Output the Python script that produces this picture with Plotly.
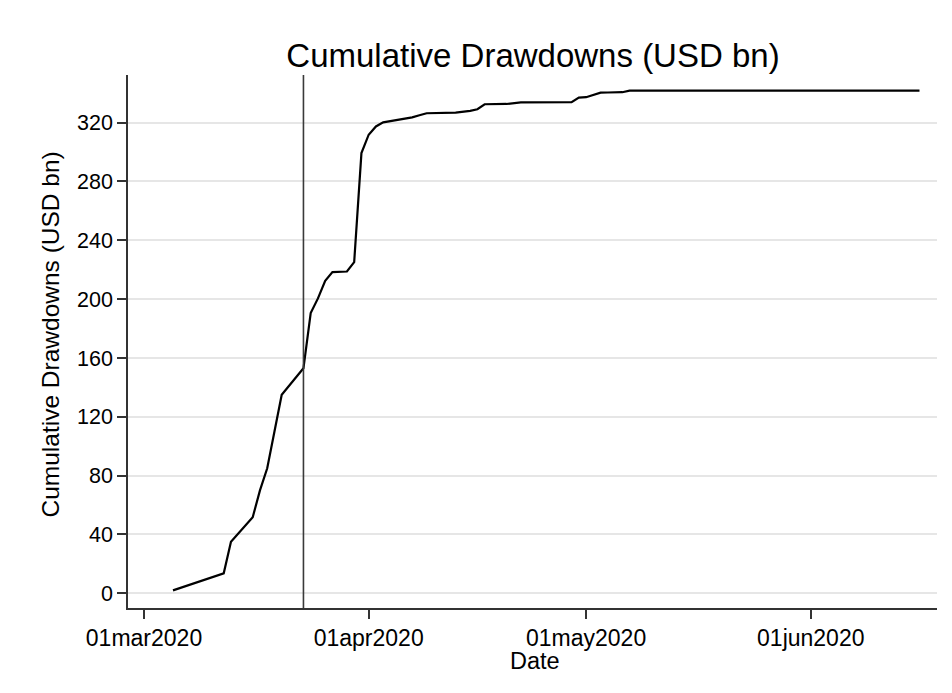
import plotly.graph_objects as go

# ---- data ----
dates = [
    "2020-03-05", "2020-03-06", "2020-03-09", "2020-03-10", "2020-03-11", "2020-03-12",
    "2020-03-13", "2020-03-16", "2020-03-17", "2020-03-18", "2020-03-19", "2020-03-20",
    "2020-03-23", "2020-03-24", "2020-03-25", "2020-03-26", "2020-03-27", "2020-03-29",
    "2020-03-30", "2020-03-31", "2020-04-01", "2020-04-02", "2020-04-03", "2020-04-06",
    "2020-04-07", "2020-04-08", "2020-04-09", "2020-04-13", "2020-04-14", "2020-04-15",
    "2020-04-16", "2020-04-17", "2020-04-20", "2020-04-22", "2020-04-29", "2020-04-30",
    "2020-05-01", "2020-05-03", "2020-05-04", "2020-05-06", "2020-05-07", "2020-06-16",
]
drawdowns = [
    2.0, 3.7, 8.6, 10.3, 11.9, 13.6,
    35.0, 51.7, 70.0, 85.0, 110.0, 135.0,
    153.0, 190.5, 200.5, 212.5, 218.4, 218.8,
    225.2, 299.3, 311.8, 317.4, 320.2, 322.8,
    323.6, 325.0, 326.4, 326.8, 327.2, 328.0,
    329.1, 332.5, 332.7, 333.8, 333.9, 337.0,
    337.3, 340.4, 340.5, 340.7, 341.8, 341.8,
]
event_date = "2020-03-23"

x_tick_vals = ["2020-03-01", "2020-04-01", "2020-05-01", "2020-06-01"]
x_tick_text = ["01mar2020", "01apr2020", "01may2020", "01jun2020"]
y_tick_vals = [0, 40, 80, 120, 160, 200, 240, 280, 320]

title_text = "Cumulative Drawdowns (USD bn)"
y_title = "Cumulative Drawdowns (USD bn)"
x_title = "Date"

FONT = "Liberation Sans, Arial, sans-serif"

# page body has an 8px margin, so the figure is sized to fit the window
W, H = 936, 677

fig = go.Figure()
fig.add_trace(go.Scatter(
    x=dates, y=drawdowns, mode="lines",
    line=dict(color="#000000", width=2.2),
    hoverinfo="x+y", showlegend=False,
))

fig.add_shape(
    type="line", xref="x", yref="paper",
    x0=event_date, x1=event_date, y0=0, y1=1,
    line=dict(color="#3a3a3a", width=1.6),
)

fig.update_layout(
    width=W, height=H,
    paper_bgcolor="white", plot_bgcolor="white",
    margin=dict(l=120, r=7, t=67, b=77),
    font=dict(family=FONT, color="#000000"),
    title=dict(text=title_text, x=525 / W, xanchor="center",
               y=1 - 47 / H, yanchor="middle", yref="container",
               font=dict(size=33, family=FONT, color="#000000")),
    showlegend=False,
)

fig.update_xaxes(
    type="date",
    range=["2020-02-27 19:00", "2020-06-18 10:00"],
    tickmode="array", tickvals=x_tick_vals, ticktext=x_tick_text,
    ticks="outside", ticklen=9, tickwidth=1.5, tickcolor="#333333",
    tickfont=dict(size=23, family=FONT, color="#000000"),
    showgrid=False, zeroline=False, automargin=False,
    showline=True, linecolor="#333333", linewidth=1.5,
)
fig.update_yaxes(
    range=[-10, 352.4],
    tickmode="array", tickvals=y_tick_vals,
    ticks="outside", ticklen=9, tickwidth=1.5, tickcolor="#333333",
    tickfont=dict(size=21.5, family=FONT, color="#000000"),
    showgrid=True, gridcolor="#e6e6e6", gridwidth=1.5,
    zeroline=False, automargin=False,
    showline=True, linecolor="#333333", linewidth=1.5,
)

fig.add_annotation(
    text=y_title, textangle=-90, showarrow=False,
    xref="paper", yref="paper", x=0, y=0.5, xanchor="center", yanchor="middle",
    xshift=-78, yshift=7,
    font=dict(size=24.5, family=FONT, color="#000000"),
)
fig.add_annotation(
    text=x_title, showarrow=False,
    xref="paper", yref="paper", x=0.503, y=0, xanchor="center", yanchor="middle",
    yshift=-53,
    font=dict(size=23.5, family=FONT, color="#000000"),
)

fig.write_html("out.html")
